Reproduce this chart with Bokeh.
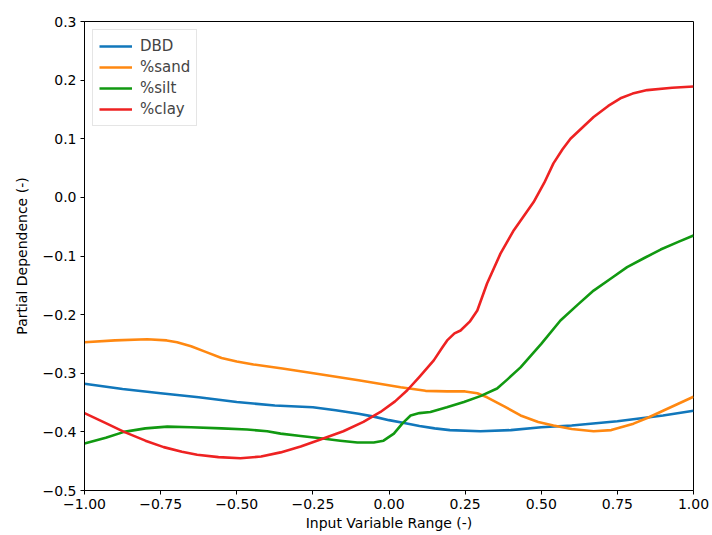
from bokeh.plotting import figure
from bokeh.models import FixedTicker, Legend, LegendItem, Range1d
from bokeh.embed import file_html
from bokeh.resources import INLINE

# Data
dbd_x = [-1.0, -0.875, -0.75, -0.625, -0.5, -0.375, -0.25, -0.175, -0.1, -0.05, 0.0, 0.05, 0.1, 0.15, 0.2, 0.3, 0.4, 0.5, 0.6, 0.75, 0.9, 1.0]
dbd_y = [-0.318, -0.327, -0.334, -0.341, -0.349, -0.355, -0.358, -0.363, -0.369, -0.374, -0.38, -0.385, -0.39, -0.394, -0.397, -0.399, -0.397, -0.392, -0.389, -0.382, -0.372, -0.364]

sand_x = [-1.0, -0.9, -0.794, -0.73, -0.696, -0.65, -0.6, -0.55, -0.5, -0.445, -0.35, -0.248, -0.1, 0.038, 0.12, 0.191, 0.25, 0.29, 0.322, 0.38, 0.432, 0.49, 0.54, 0.6, 0.672, 0.73, 0.803, 0.85, 0.9, 0.95, 1.0]
sand_y = [-0.247, -0.244, -0.242, -0.244, -0.247, -0.254, -0.264, -0.274, -0.28, -0.285, -0.292, -0.30, -0.312, -0.324, -0.33, -0.331, -0.331, -0.334, -0.341, -0.357, -0.372, -0.383, -0.389, -0.395, -0.399, -0.397, -0.386, -0.376, -0.364, -0.352, -0.340]

silt_x = [-1.0, -0.93, -0.87, -0.8, -0.728, -0.65, -0.55, -0.466, -0.4, -0.356, -0.29, -0.225, -0.16, -0.104, -0.05, -0.018, 0.016, 0.045, 0.071, 0.1, 0.136, 0.19, 0.246, 0.3, 0.355, 0.39, 0.432, 0.5, 0.563, 0.62, 0.672, 0.73, 0.782, 0.84, 0.892, 0.95, 1.0]
silt_y = [-0.42, -0.41, -0.40, -0.394, -0.391, -0.392, -0.394, -0.396, -0.399, -0.403, -0.407, -0.411, -0.415, -0.418, -0.418, -0.415, -0.403, -0.385, -0.372, -0.368, -0.366, -0.358, -0.349, -0.339, -0.326, -0.31, -0.29, -0.25, -0.21, -0.183, -0.159, -0.138, -0.119, -0.103, -0.089, -0.076, -0.065]

clay_x = [-1.0, -0.93, -0.87, -0.8, -0.74, -0.68, -0.63, -0.56, -0.488, -0.42, -0.356, -0.29, -0.225, -0.15, -0.084, -0.028, 0.02, 0.06, 0.1, 0.147, 0.175, 0.191, 0.215, 0.235, 0.265, 0.29, 0.322, 0.366, 0.41, 0.475, 0.51, 0.54, 0.57, 0.596, 0.672, 0.72, 0.76, 0.8, 0.848, 0.93, 1.0]
clay_y = [-0.368, -0.385, -0.40, -0.415, -0.426, -0.434, -0.439, -0.443, -0.445, -0.442, -0.435, -0.425, -0.413, -0.399, -0.383, -0.366, -0.348, -0.329, -0.306, -0.278, -0.256, -0.244, -0.232, -0.227, -0.212, -0.193, -0.147, -0.096, -0.056, -0.008, 0.025, 0.058, 0.082, 0.10, 0.137, 0.156, 0.169, 0.177, 0.183, 0.187, 0.189]

series_names = ["DBD", "%sand", "%silt", "%clay"]
series_colors = ["#1177bb", "#ff8811", "#119911", "#ee2222"]

x_ticks = [-1.0, -0.75, -0.5, -0.25, 0.0, 0.25, 0.5, 0.75, 1.0]
y_ticks = [-0.5, -0.4, -0.3, -0.2, -0.1, 0.0, 0.1, 0.2, 0.3]

FONT = "DejaVu Sans"

p = figure(width=712, height=535, output_backend="svg", toolbar_location=None,
           x_range=Range1d(-1.0, 1.0), y_range=Range1d(-0.5, 0.3),
           min_border_left=84, min_border_right=19, min_border_top=21, min_border_bottom=45)

p.xgrid.visible = False
p.ygrid.visible = False
p.outline_line_color = "black"
p.outline_line_width = 1

renderers = []
for xs, ys, c in zip([dbd_x, sand_x, silt_x, clay_x], [dbd_y, sand_y, silt_y, clay_y], series_colors):
    r = p.line(xs, ys, line_color=c, line_width=2.6, line_join="round")
    renderers.append(r)

def fmt(v, d):
    s = f"{v:.{d}f}"
    return s.replace("-", "\u2212")

p.xaxis.ticker = FixedTicker(ticks=x_ticks)
p.yaxis.ticker = FixedTicker(ticks=y_ticks)
p.xaxis.major_label_overrides = {t: fmt(t, 2) for t in x_ticks}
p.yaxis.major_label_overrides = {t: fmt(t, 1) for t in y_ticks}

for ax in [p.xaxis[0], p.yaxis[0]]:
    ax.axis_line_color = "black"
    ax.major_tick_line_color = "black"
    ax.major_tick_out = 4
    ax.major_tick_in = 0
    ax.minor_tick_line_color = None
    ax.major_label_text_font = FONT
    ax.major_label_text_font_size = "14px"
    ax.major_label_text_color = "black"
    ax.axis_label_text_font = FONT
    ax.axis_label_text_font_size = "14px"
    ax.axis_label_text_font_style = "normal"
    ax.axis_label_text_color = "black"

p.xaxis.axis_label = "Input Variable Range (-)"
p.yaxis.axis_label = "Partial Dependence (-)"
p.xaxis.axis_label_standoff = 3
p.yaxis.axis_label_standoff = 10
p.xaxis.major_label_standoff = 4
p.yaxis.major_label_standoff = 4

legend = Legend(items=[LegendItem(label=n, renderers=[r]) for n, r in zip(series_names, renderers)],
                location="top_left")
legend.label_text_font = FONT
legend.label_text_font_size = "15px"
legend.glyph_width = 33
legend.glyph_height = 20
legend.spacing = 1
legend.margin = 8
legend.padding = 6
legend.border_line_color = "#cccccc"
legend.border_line_width = 1
legend.label_standoff = 8
p.add_layout(legend)

open("out.html", "w").write(file_html(p, INLINE))
